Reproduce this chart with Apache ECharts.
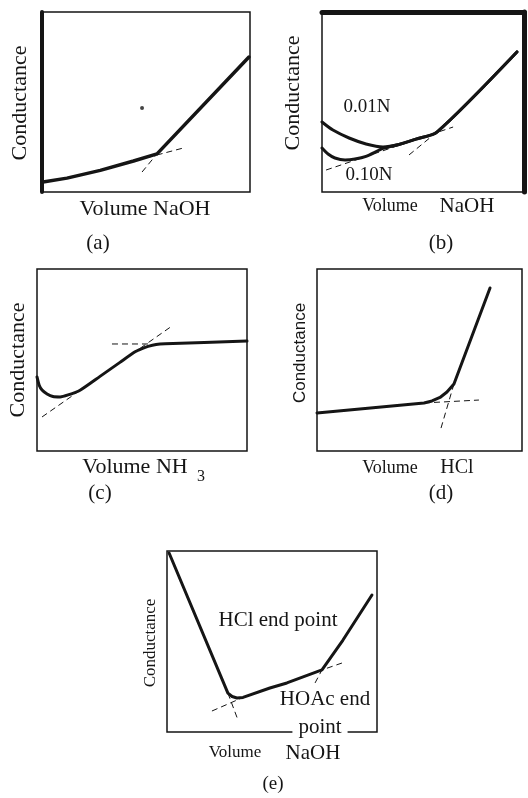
<!DOCTYPE html>
<html>
<head>
<meta charset="utf-8">
<script src="https://cdn.jsdelivr.net/npm/echarts@6/dist/echarts.min.js"></script>
<style>
html, body { margin: 0; padding: 0; background: #fff; }
#chart { width: 528px; height: 798px; }
</style>
</head>
<body>
<div id="chart"></div>
<script>
// all values on a 0-100 scale for both axes of every panel

// (a) Volume NaOH
const curveA = [[0.5, 5.6], [12, 7.7], [28, 12], [44, 17.2], [55.3, 21.2], [99.5, 75]]
const dashA1 = [[48.1, 11.1], [55.3, 21.2]]
const dashA2 = [[50.5, 19.1], [67.8, 24.4]]
const speckA = [[48.1, 46.7]]

// (b) 0.01N and 0.10N, Volume NaOH
const curveB001 = [[0, 38.9], [5.4, 34.4], [13.4, 30], [21.8, 26.7], [30.2, 25], [38.1, 26.4], [46.5, 29.4], [56.9, 33.3], [96.5, 77.8]]
const curveB010 = [[0, 24.4], [3, 21.1], [6.4, 18.9], [11.4, 17.8], [16.3, 18.3], [21.8, 19.8], [30.2, 24.2], [38.1, 26.4], [46.5, 29.4], [56.9, 33.3], [96.5, 77.8]]
const dashB1 = [[2, 12.2], [64.9, 36.1]]
const dashB2 = [[43.1, 20.6], [56.9, 33.3]]

// (c) Volume NH3
const curveC = [[0, 40.7], [1, 36.3], [2.4, 33.5], [4.8, 31.3], [7.6, 29.9], [11, 29.7], [14.8, 30.8], [20.5, 33.4], [30, 41], [39.5, 48.7], [46.7, 54.5], [50, 56.3], [52.9, 57.5], [56.7, 58.5], [61, 58.9], [100, 60.4]]
const dashC1 = [[2.4, 18.7], [64.8, 69.1]]
const dashC2 = [[35.7, 58.8], [53.8, 58.8]]

// (d) Volume HCl
const curveD = [[0, 20.9], [52.2, 26.4], [56.1, 27.5], [60, 29.4], [63.4, 32.4], [66.8, 36.8], [84.4, 89.6]]
const dashD1 = [[52.2, 26.4], [79, 28]]
const dashD2 = [[60.5, 12.6], [66.8, 36.8]]

// (e) HCl + HOAc mixture, Volume NaOH
const curveE = [[1, 98.9], [29, 21.5], [31, 19.6], [33.3, 18.8], [36.2, 19.1], [49, 24.3], [57.1, 27.1], [73.8, 34.3], [83.8, 50.8], [97.6, 75.7]]
const dashE1 = [[21.4, 11.6], [36.2, 19.1]]
const dashE2 = [[29, 21.5], [33.8, 6.6]]
const dashE3 = [[70.5, 27.1], [73.8, 34.3], [83.3, 38.1]]

const ink = '#151515'
const serif = 'Liberation Serif'

const grids = [
  { left: 42, top: 12, width: 208, height: 180 },
  { left: 322, top: 12, width: 202, height: 180 },
  { left: 37, top: 269, width: 210, height: 182 },
  { left: 317, top: 269, width: 205, height: 182 },
  { left: 167, top: 551, width: 210, height: 181 }
].map(g => Object.assign(g, { show: true, borderColor: ink, borderWidth: 1.5 }))

function axis (extra) {
  return Object.assign({
    type: 'value', min: 0, max: 100,
    axisLine: { show: false },
    axisTick: { show: false },
    axisLabel: { show: false },
    splitLine: { show: false }
  }, extra)
}

const xAxes = [0, 1, 2, 3, 4].map(i => axis({ gridIndex: i }))
const yAxes = [0, 1, 2, 3, 4].map(i => axis({ gridIndex: i }))
// heavy edges seen in the scan
yAxes[0].axisLine = { show: true, onZero: false, lineStyle: { color: ink, width: 4 } }
xAxes[1].position = 'top'
xAxes[1].axisLine = { show: true, onZero: false, lineStyle: { color: ink, width: 5 } }
yAxes[1].position = 'right'
yAxes[1].axisLine = { show: true, onZero: false, lineStyle: { color: ink, width: 5 } }

function solid (i, data, smooth, w) {
  return {
    type: 'line', xAxisIndex: i, yAxisIndex: i, data: data,
    showSymbol: false, smooth: smooth,
    lineStyle: { color: ink, width: w || 3, cap: 'round', join: 'round' }, silent: true
  }
}
function dashed (i, data) {
  return {
    type: 'line', xAxisIndex: i, yAxisIndex: i, data: data,
    showSymbol: false,
    lineStyle: { color: ink, width: 1, type: [6, 4] }, silent: true
  }
}

function txt (x, y, text, size, extra) {
  return Object.assign({
    type: 'text', x: x, y: y,
    style: Object.assign({
      text: text, fontSize: size, fontFamily: serif, fill: ink,
      align: 'center', verticalAlign: 'middle'
    }, (extra && extra.style) || {})
  }, extra && extra.rotation ? { rotation: extra.rotation } : {})
}
const up = { rotation: Math.PI / 2 }

const chart = echarts.init(document.getElementById('chart'), null, { renderer: 'canvas' })
chart.setOption({
  animation: false,
  backgroundColor: '#fff',
  grid: grids,
  xAxis: xAxes,
  yAxis: yAxes,
  series: [
    solid(0, curveA, false, 3.5),
    dashed(0, dashA1),
    dashed(0, dashA2),
    {
      type: 'scatter', xAxisIndex: 0, yAxisIndex: 0, data: speckA,
      symbolSize: 4, itemStyle: { color: ink }, silent: true
    },
    solid(1, curveB001, 0.25),
    solid(1, curveB010, 0.25),
    dashed(1, dashB1),
    dashed(1, dashB2),
    solid(2, curveC, 0.2),
    dashed(2, dashC1),
    dashed(2, dashC2),
    solid(3, curveD, false),
    dashed(3, dashD1),
    dashed(3, dashD2),
    solid(4, curveE, false),
    dashed(4, dashE1),
    dashed(4, dashE2),
    dashed(4, dashE3)
  ],
  graphic: [
    // (a)
    txt(20, 103, 'Conductance', 22, up),
    txt(145, 209, 'Volume NaOH', 22),
    txt(98, 243, '(a)', 21),
    // (b)
    txt(293, 93, 'Conductance', 22, up),
    txt(390, 206, 'Volume', 18),
    txt(467, 206, 'NaOH', 21),
    txt(367, 107, '0.01N', 19),
    txt(369, 175, '0.10N', 19),
    txt(441, 243, '(b)', 21),
    // (c)
    txt(18, 360, 'Conductance', 22, up),
    txt(135, 467, 'Volume NH', 22),
    txt(201, 477, '3', 16),
    txt(100, 493, '(c)', 21),
    // (d)
    txt(300, 353, 'Conductance', 17, { rotation: Math.PI / 2, style: { fontFamily: 'Liberation Sans' } }),
    txt(390, 468, 'Volume', 18),
    txt(457, 468, 'HCl', 20),
    txt(441, 493, '(d)', 21),
    // (e)
    txt(151, 643, 'Conductance', 17, up),
    txt(235, 753, 'Volume', 17),
    txt(313, 753, 'NaOH', 21),
    txt(273, 784, '(e)', 19),
    txt(278, 620, 'HCl end point', 21),
    txt(325, 699, 'HOAc end', 21, { style: { backgroundColor: '#fff', padding: [0, 2] } }),
    txt(320, 727, 'point', 21, { style: { backgroundColor: '#fff', padding: [0, 6] } })
  ]
})
</script>
</body>
</html>
